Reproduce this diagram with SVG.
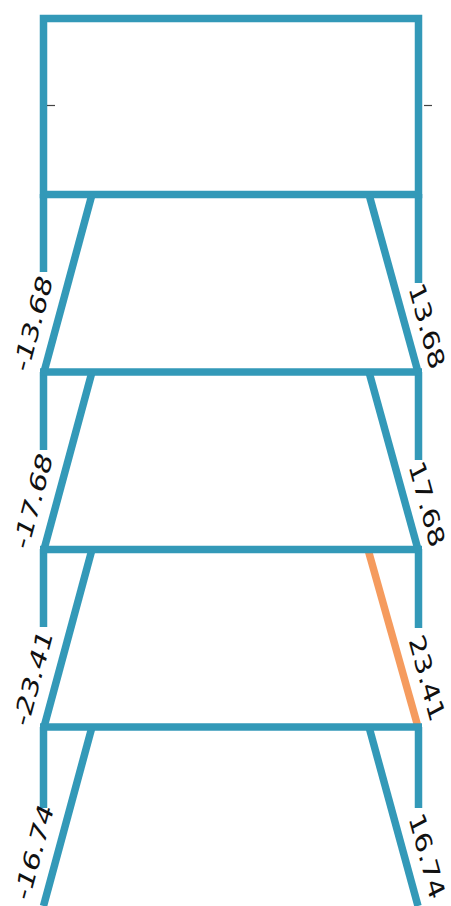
<svg xmlns="http://www.w3.org/2000/svg" width="451" height="906" viewBox="0 0 451 906">
  <style>
    .m { stroke: #3399b8; stroke-width: 7.5; fill: none; stroke-linecap: butt; }
    .hot { stroke: #f59b5e; stroke-width: 7.5; fill: none; }
    .tick { stroke: #444; stroke-width: 1.2; }
    .lbl { font-family: "DejaVu Sans", sans-serif; font-size: 31px; fill: #111; text-anchor: middle; dominant-baseline: central; }
  </style>
  <rect width="451" height="906" fill="#fff"/>
  <g id="connectors">
    <line class="m" x1="92" y1="194.5" x2="44" y2="372"/>
    <line class="m" x1="369" y1="194.5" x2="418" y2="372"/>
    <line class="m" x1="92" y1="372" x2="44" y2="549.5"/>
    <line class="m" x1="369" y1="372" x2="418" y2="549.5"/>
    <line class="m" x1="92" y1="549.5" x2="44" y2="727"/>
    <line class="hot" x1="368" y1="549.5" x2="418" y2="727"/>
    <line class="m" x1="92" y1="727" x2="43.5" y2="906"/>
    <line class="m" x1="369" y1="727" x2="418" y2="906"/>
    <line class="m" x1="43.5" y1="194" x2="43.5" y2="272"/>
    <line class="m" x1="418.5" y1="194" x2="418.5" y2="283"/>
    <line class="m" x1="43.5" y1="372" x2="43.5" y2="450"/>
    <line class="m" x1="418.5" y1="372" x2="418.5" y2="460"/>
    <line class="m" x1="43.5" y1="549" x2="43.5" y2="627"/>
    <line class="m" x1="418.5" y1="549" x2="418.5" y2="628"/>
    <line class="m" x1="43.5" y1="727" x2="43.5" y2="808"/>
    <line class="m" x1="418.5" y1="727" x2="418.5" y2="808"/>
    <line class="m" x1="40" y1="372" x2="422" y2="372"/>
    <line class="m" x1="40" y1="549.5" x2="422" y2="549.5"/>
    <line class="m" x1="40" y1="727" x2="422" y2="727"/>
  </g>
  <g id="top-box">
    <rect class="m" x="43.5" y="18.5" width="375" height="176"/>
    <line class="tick" x1="47" y1="105.5" x2="55" y2="105.5"/>
    <line class="tick" x1="424" y1="105.5" x2="432" y2="105.5"/>
  </g>
  <g id="labels">
    <text class="lbl" transform="translate(33,323.5) scale(0.72,1) rotate(-69.5)">-13.68</text>
    <text class="lbl" transform="translate(427,326) scale(0.72,1) rotate(69.5)">13.68</text>
    <text class="lbl" transform="translate(33,501) scale(0.72,1) rotate(-69.5)">-17.68</text>
    <text class="lbl" transform="translate(427,504) scale(0.72,1) rotate(69.5)">17.68</text>
    <text class="lbl" transform="translate(33,678) scale(0.72,1) rotate(-69.5)">-23.41</text>
    <text class="lbl" transform="translate(427,678) scale(0.72,1) rotate(69.5)">23.41</text>
    <text class="lbl" transform="translate(34,852) scale(0.72,1) rotate(-69.5)">-16.74</text>
    <text class="lbl" transform="translate(427,856) scale(0.72,1) rotate(69.5)">16.74</text>
  </g>
</svg>
